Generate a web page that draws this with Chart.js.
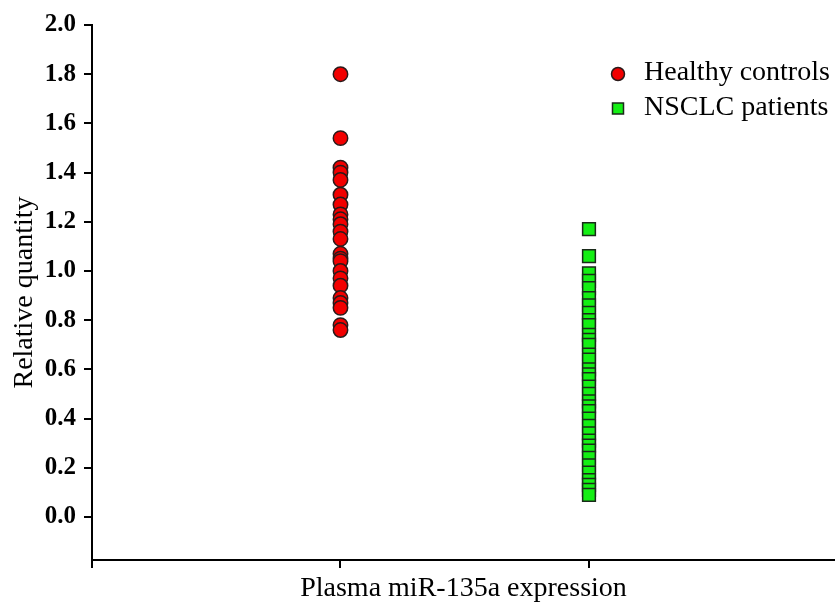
<!DOCTYPE html>
<html>
<head>
<meta charset="utf-8">
<script src="https://cdn.jsdelivr.net/npm/chart.js@4.4.0/dist/chart.umd.min.js"></script>
<style>
  html, body { margin: 0; padding: 0; background: #ffffff; }
  #wrap { width: 835px; height: 603px; }
</style>
</head>
<body>
<div id="wrap"><canvas id="c" width="835" height="603"></canvas></div>
<script>
// ---- data ----
const categories = ["Healthy controls", "NSCLC patients"];
const categoryPositions = [1, 2];
const healthyValues = [1.80, 1.54, 1.42, 1.40, 1.37, 1.31, 1.27, 1.23, 1.21, 1.19, 1.16, 1.13,
  1.07, 1.05, 1.04, 1.00, 0.97, 0.94, 0.89, 0.87, 0.85, 0.78, 0.76];
const nsclcValues = [1.17, 1.06, 0.99, 0.96, 0.93, 0.89, 0.86, 0.83, 0.80, 0.78, 0.74, 0.72,
  0.70, 0.66, 0.64, 0.60, 0.58, 0.56, 0.53, 0.50, 0.47, 0.45, 0.43, 0.40, 0.37, 0.34,
  0.31, 0.29, 0.27, 0.24, 0.21, 0.18, 0.15, 0.13, 0.11, 0.09];
const yTickValues = [0, 0.2, 0.4, 0.6, 0.8, 1.0, 1.2, 1.4, 1.6, 1.8, 2.0];
const yTickLabels = ["0.0", "0.2", "0.4", "0.6", "0.8", "1.0", "1.2", "1.4", "1.6", "1.8", "2.0"];
const xTickValues = [0, 1, 2];
const xAxisTitle = "Plasma miR-135a expression";
const yAxisTitle = "Relative quantity";

const SERIF = '"Liberation Serif", "Times New Roman", serif';

const healthyPoints = healthyValues.map(v => ({ x: categoryPositions[0], y: v }));
const nsclcPoints = nsclcValues.map(v => ({ x: categoryPositions[1], y: v }));

const legendPlugin = {
  id: 'customLegend',
  afterDraw(chart) {
    const ctx = chart.ctx;
    const ds = chart.data.datasets;
    const rows = [72.5, 107.5];
    ctx.save();
    ds.forEach((d, i) => {
      const cy = rows[i];
      const cx = 618;
      ctx.fillStyle = d.backgroundColor;
      ctx.strokeStyle = d.borderColor;
      ctx.lineWidth = 1.5;
      ctx.beginPath();
      if (d.pointStyle === 'circle') {
        ctx.arc(cx, cy + 1.5, 6.5, 0, Math.PI * 2);
      } else {
        ctx.rect(cx - 5.5, cy - 4.5, 11, 11);
      }
      ctx.fill();
      ctx.stroke();
      ctx.fillStyle = '#000000';
      ctx.font = '28px ' + SERIF;
      ctx.textAlign = 'left';
      ctx.textBaseline = 'middle';
      ctx.fillText(d.label, 644, cy);
    });
    ctx.restore();
  }
};

new Chart(document.getElementById('c'), {
  type: 'scatter',
  data: {
    datasets: [
      {
        label: categories[0],
        data: healthyPoints,
        pointStyle: 'circle',
        pointRadius: 7.2,
        pointHoverRadius: 7.2,
        backgroundColor: '#f20000',
        borderColor: '#2a1a1a',
        borderWidth: 1.5
      },
      {
        label: categories[1],
        data: nsclcPoints,
        pointStyle: 'rect',
        pointRadius: 9,
        pointHoverRadius: 9,
        backgroundColor: '#14ef14',
        borderColor: '#1a2a1a',
        borderWidth: 1.5
      }
    ]
  },
  options: {
    responsive: false,
    animation: false,
    devicePixelRatio: 1,
    layout: { autoPadding: false, padding: { top: 25, right: 0, bottom: 0, left: 0 } },
    plugins: {
      legend: { display: false },
      tooltip: { enabled: false },
      title: { display: false }
    },
    scales: {
      x: {
        type: 'linear',
        min: 0,
        max: 2.99,
        afterBuildTicks(scale) { scale.ticks = xTickValues.map(v => ({ value: v })); },
        afterFit(scale) { scale.height = 43; scale.paddingLeft = 0; scale.paddingRight = 0; },
        grid: { drawOnChartArea: false, drawTicks: true, tickLength: 8, color: '#000000', lineWidth: 2 },
        border: { display: true, color: '#000000', width: 2 },
        ticks: { display: false },
        title: {
          display: true,
          text: xAxisTitle,
          color: '#000000',
          font: { family: SERIF, size: 28, lineHeight: 1 },
          padding: { top: 0, bottom: 0 }
        }
      },
      y: {
        type: 'linear',
        min: -0.175,
        max: 2.0,
        afterBuildTicks(scale) { scale.ticks = yTickValues.map(v => ({ value: v })); },
        afterFit(scale) { scale.width = 92; },
        grid: { drawOnChartArea: false, drawTicks: true, tickLength: 8, color: '#000000', lineWidth: 2 },
        border: { display: true, color: '#000000', width: 2 },
        ticks: {
          color: '#000000',
          padding: 8,
          font: { family: SERIF, size: 25, weight: 'bold' },
          callback: (value) => {
            const i = yTickValues.findIndex(t => Math.abs(t - value) < 1e-9);
            return i >= 0 ? yTickLabels[i] : '';
          }
        },
        title: {
          display: true,
          text: yAxisTitle,
          color: '#000000',
          font: { family: SERIF, size: 28, lineHeight: 1 },
          padding: { top: 11, bottom: 0 }
        }
      }
    }
  },
  plugins: [legendPlugin]
});
</script>
</body>
</html>
